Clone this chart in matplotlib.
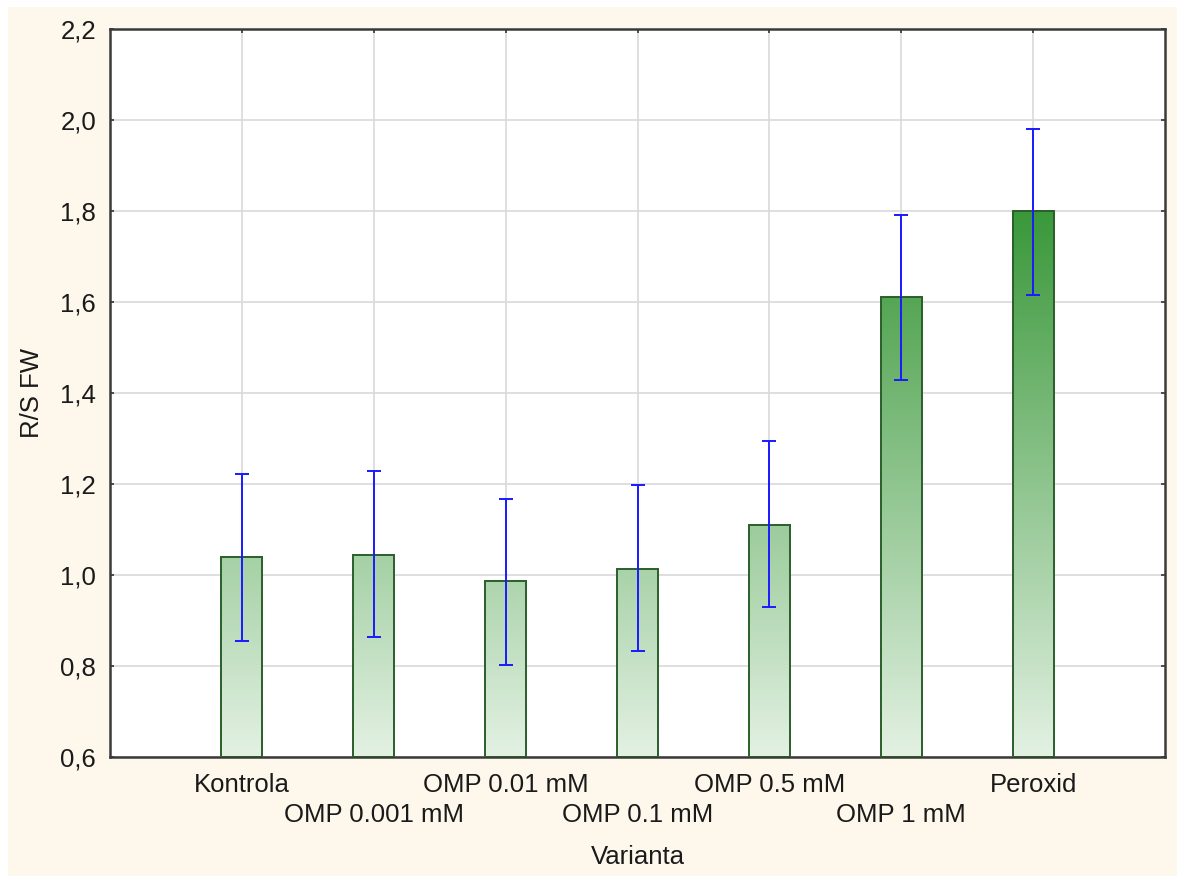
import numpy as np
import matplotlib
matplotlib.use("Agg")
import matplotlib.pyplot as plt
from matplotlib.colors import LinearSegmentedColormap
from matplotlib.patches import Rectangle

categories = ["Kontrola", "OMP 0.001 mM", "OMP 0.01 mM", "OMP 0.1 mM",
              "OMP 0.5 mM", "OMP 1 mM", "Peroxid"]
means = [1.04, 1.045, 0.987, 1.014, 1.11, 1.612, 1.80]
upper = [1.221, 1.229, 1.168, 1.198, 1.295, 1.792, 1.981]
lower = [0.856, 0.864, 0.803, 0.832, 0.930, 1.428, 1.616]
yticks = [0.6, 0.8, 1.0, 1.2, 1.4, 1.6, 1.8, 2.0, 2.2]
ytick_labels = ["0,6", "0,8", "1,0", "1,2", "1,4", "1,6", "1,8", "2,0", "2,2"]

plt.rcParams['font.family'] = ['Liberation Sans', 'DejaVu Sans']
W, H = 1177, 876
fig = plt.figure(figsize=(W / 100, H / 100), dpi=100, facecolor="white")
# cream background with thin white margin at top/left
fig.patches.append(Rectangle((8 / W, 0), 1, 1 - 7 / H, transform=fig.transFigure,
                             facecolor="#fdf7ec", edgecolor="none", zorder=-10))

ax = fig.add_axes([110 / W, 1 - 757 / H, (1165 - 110) / W, (757 - 29) / H])
ax.set_facecolor("white")

x = np.arange(1, len(categories) + 1)
ax.set_xlim(0, 8)
ax.set_ylim(0.6, 2.2)

ax.grid(True, which="both", color="#d9d9d9", linewidth=1.2, zorder=0)
ax.set_axisbelow(True)

cmap = LinearSegmentedColormap.from_list("g", ["#e3f1e3", "#3a983a"])
grad = np.linspace(0.6, 2.2, 512).reshape(-1, 1)
bw = 0.31
bars = ax.bar(x, np.array(means) - 0.6, bottom=0.6, width=bw, facecolor="none",
              edgecolor="#2a5e2a", linewidth=1.4, zorder=3)
for b in bars:
    im = ax.imshow(grad, cmap=cmap, vmin=0.6, vmax=1.8, origin="lower",
                   extent=[b.get_x(), b.get_x() + b.get_width(), 0.6, 2.2],
                   aspect="auto", zorder=2, interpolation="bilinear")
    im.set_clip_path(b)

m = np.array(means)
yerr = np.vstack([m - np.array(lower), np.array(upper) - m])
ax.errorbar(x, m, yerr=yerr, fmt="none", ecolor="#1a1aff", elinewidth=1.4,
            capsize=4.7, capthick=1.4, zorder=4)

ax.set_xlim(0, 8)
ax.set_ylim(0.6, 2.2)

# staggered category labels: first row on major ticks, second row on minor ticks
ax.set_xticks(x[0::2])
ax.set_xticklabels(categories[0::2], fontsize=18.5, color="#1a1a1a")
ax.set_xticks(x[1::2], minor=True)
ax.set_xticklabels(categories[1::2], minor=True, fontsize=18.5, color="#1a1a1a")
ax.set_yticks(yticks)
ax.set_yticklabels(ytick_labels, fontsize=18.5, color="#1a1a1a")
ax.tick_params(axis="both", which="both", direction="in", length=3, width=1.2,
               color="#333333", top=True, right=True)
ax.tick_params(axis="x", which="major", pad=11.5)
ax.tick_params(axis="x", which="minor", pad=33)
ax.tick_params(axis="y", pad=10)

for s in ax.spines.values():
    s.set_color("#3a3a3a")
    s.set_linewidth(1.8)

ax.set_ylabel("R/S FW", fontsize=18.5, color="#1a1a1a", va="center")
ax.yaxis.set_label_coords((32 - 110) / (1165 - 110), 0.5)
ax.set_xlabel("Varianta", fontsize=18.5, color="#1a1a1a", va="center")
ax.xaxis.set_label_coords(0.5, -(857 - 757) / (757 - 29))

fig.savefig("out.png", dpi=100, facecolor=fig.get_facecolor())
